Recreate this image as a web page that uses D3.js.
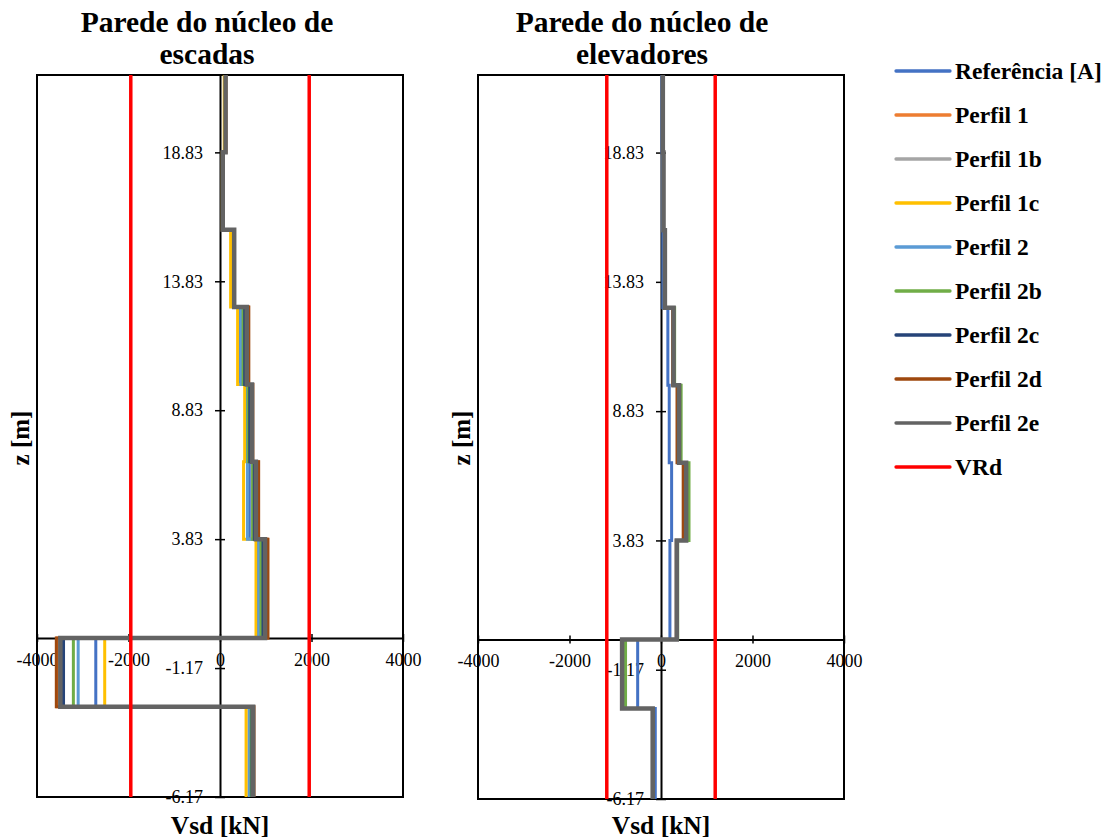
<!DOCTYPE html>
<html>
<head>
<meta charset="utf-8">
<script src="https://cdn.jsdelivr.net/npm/d3@7"></script>
<style>
  html, body { margin: 0; padding: 0; background: #fff; }
  svg { display: block; font-family: "Liberation Serif", "Times New Roman", serif; }
</style>
</head>
<body>
<svg id="chart" width="1107" height="839"></svg>
<script>
// ---------------- DATA ----------------
const seriesNames = ["Referência [A]", "Perfil 1", "Perfil 1b", "Perfil 1c", "Perfil 2",
                     "Perfil 2b", "Perfil 2c", "Perfil 2d", "Perfil 2e"];
const seriesColors = ["#4472C4", "#ED7D31", "#A5A5A5", "#FFC000", "#5B9BD5",
                      "#70AD47", "#264478", "#9E480E", "#636363"];
const vrdName = "VRd";
const vrdColor = "#FF0000";

// floor boundaries (z, m) – segment i spans zLevels[i] .. zLevels[i+1]
const zLevels = [21.83, 18.83, 15.83, 12.83, 9.83, 6.83, 3.83, 0, -2.67, -6.17];

// Wall of the stair core (kN), one value per segment, top to bottom
const escRef = [120, 60, 300, 445, 600, 640, 840, -2715, 635];
const escP1  = [125, 62, 312, 620, 712, 838, 1040, -3560, 735];
const escP1b = [122, 60, 310, 585, 700, 785, 985, -3490, 725];
const escP1c = [92, 50, 232, 385, 540, 515, 787, -2520, 570];
const escP2  = [118, 60, 300, 455, 605, 600, 850, -3100, 645];
const escP2b = [120, 60, 305, 505, 615, 712, 895, -3205, 680];
const escP2c = [120, 60, 308, 540, 650, 750, 940, -3420, 700];
const escP2d = [128, 63, 315, 630, 718, 845, 1048, -3578, 742];
const escP2e = [122, 60, 310, 585, 700, 785, 985, -3490, 725];
const escVRd = 1950;

// Wall of the elevator core (kN)
const eleRef = [20, 30, 40, 150, 180, 232, 195, -510, -125];
const eleP1  = [40, 55, 85, 272, 390, 545, 342, -848, -182];
const eleP1b = [40, 55, 85, 275, 392, 548, 345, -850, -182];
const eleP1c = [38, 53, 82, 270, 388, 540, 340, -845, -180];
const eleP2  = [40, 55, 85, 275, 395, 550, 345, -850, -183];
const eleP2b = [40, 56, 86, 298, 440, 612, 365, -775, -178];
const eleP2c = [39, 54, 84, 272, 390, 545, 343, -848, -183];
const eleP2d = [40, 55, 85, 255, 350, 485, 335, -852, -185];
const eleP2e = [40, 55, 85, 275, 395, 550, 345, -850, -182];
const eleVRd = 1185;

const xDomain = [-4000, 4000];
const xTickValues = [-4000, -2000, 0, 2000, 4000];
const xTickLabels = ["-4000", "-2000", "0", "2000", "4000"];
const yDomain = [-6.17, 21.83];
const yTickValues = [-6.17, -1.17, 3.83, 8.83, 13.83, 18.83];
const yTickLabels = ["-6.17", "-1.17", "3.83", "8.83", "13.83", "18.83"];

const titleEsc = ["Parede do núcleo de", "escadas"];
const titleEle = ["Parede do núcleo de", "elevadores"];
const xLabel = "Vsd [kN]";
const yLabel = "z [m]";

// ---------------- DRAW ----------------
const svg = d3.select("#chart");

function panel(cfg) {
  const x = d3.scaleLinear().domain(xDomain).range([cfg.left, cfg.right]);
  const y = d3.scaleLinear().domain(yDomain).range([cfg.bottom, cfg.top]);
  const g = svg.append("g");

  // plot border
  g.append("rect")
    .attr("x", x(xDomain[0])).attr("y", y(yDomain[1]))
    .attr("width", x(xDomain[1]) - x(xDomain[0]))
    .attr("height", y(yDomain[0]) - y(yDomain[1]))
    .attr("fill", "none").attr("stroke", "#000").attr("stroke-width", 2);

  // x axis at z = 0
  const xAxis = d3.axisBottom(x).tickValues(xTickValues)
    .tickFormat((d, i) => xTickLabels[i])
    .tickSizeInner(4).tickSizeOuter(0).tickPadding(11);
  const gx = g.append("g").attr("transform", `translate(0,${y(0)})`).call(xAxis);
  gx.select(".domain").attr("stroke", "#000").attr("stroke-width", 2);
  gx.selectAll(".tick line").attr("y1", -4).attr("y2", 4).attr("stroke", "#000").attr("stroke-width", 1.5);
  gx.selectAll(".tick text").attr("font-size", 18).attr("fill", "#000")
    .style("font-family", "'Liberation Serif', serif");

  // y axis at Vsd = 0
  const yAxis = d3.axisLeft(y).tickValues(yTickValues)
    .tickFormat((d, i) => yTickLabels[i])
    .tickSizeInner(5).tickSizeOuter(0).tickPadding(12);
  const gy = g.append("g").attr("transform", `translate(${x(0)},0)`).call(yAxis);
  gy.select(".domain").attr("stroke", "#000").attr("stroke-width", 2);
  gy.selectAll(".tick line").attr("x1", 5).attr("x2", -5).attr("stroke", "#000").attr("stroke-width", 1.5);
  gy.selectAll(".tick text").attr("font-size", 18).attr("fill", "#000")
    .style("font-family", "'Liberation Serif', serif");

  // step lines
  const line = d3.line().x(d => x(d[0])).y(d => y(d[1]));
  cfg.series.forEach((vals, si) => {
    const pts = [];
    vals.forEach((v, i) => { pts.push([v, zLevels[i]]); pts.push([v, zLevels[i + 1]]); });
    g.append("path").datum(pts)
      .attr("d", line)
      .attr("fill", "none")
      .attr("stroke", seriesColors[si])
      .attr("stroke-width", si === 8 ? 4.5 : 3)
      .attr("stroke-linejoin", "miter");
  });

  // VRd limits
  [-cfg.vrd, cfg.vrd].forEach(v => {
    g.append("path").datum([[v, yDomain[0]], [v, yDomain[1]]])
      .attr("d", line).attr("fill", "none")
      .attr("stroke", vrdColor).attr("stroke-width", 3.5);
  });

  // title
  const t = g.append("text").attr("text-anchor", "middle")
    .attr("font-size", 29.5).attr("font-weight", "bold").attr("fill", "#000");
  cfg.title.forEach((s, i) => {
    t.append("tspan").attr("x", cfg.titleX).attr("y", 32 + i * 32).text(s);
  });

  // axis titles
  g.append("text").attr("x", (cfg.left + cfg.right) / 2).attr("y", 834)
    .attr("text-anchor", "middle").attr("font-size", 25.5).attr("font-weight", "bold")
    .text(xLabel);
  g.append("text")
    .attr("transform", `translate(${cfg.left - 8},${438}) rotate(-90)`)
    .attr("text-anchor", "middle").attr("font-size", 25).attr("font-weight", "bold")
    .text(yLabel);
}

panel({
  left: 37, right: 403, top: 75, bottom: 797, titleX: 207, title: titleEsc, vrd: escVRd,
  series: [escRef, escP1, escP1b, escP1c, escP2, escP2b, escP2c, escP2d, escP2e]
});
panel({
  left: 478, right: 844, top: 75, bottom: 799, titleX: 642, title: titleEle, vrd: eleVRd,
  series: [eleRef, eleP1, eleP1b, eleP1c, eleP2, eleP2b, eleP2c, eleP2d, eleP2e]
});

// legend
const legNames = seriesNames.concat([vrdName]);
const legColors = seriesColors.concat([vrdColor]);
const leg = svg.append("g");
legNames.forEach((n, i) => {
  const yy = 71 + i * 44;
  leg.append("line").attr("x1", 896).attr("x2", 950).attr("y1", yy).attr("y2", yy)
    .attr("stroke", legColors[i]).attr("stroke-width", 3.3).attr("stroke-linecap", "round");
  leg.append("text").attr("x", 955).attr("y", yy).attr("dy", "0.35em")
    .attr("font-size", 23.5).attr("font-weight", "bold").text(n);
});
</script>
</body>
</html>
